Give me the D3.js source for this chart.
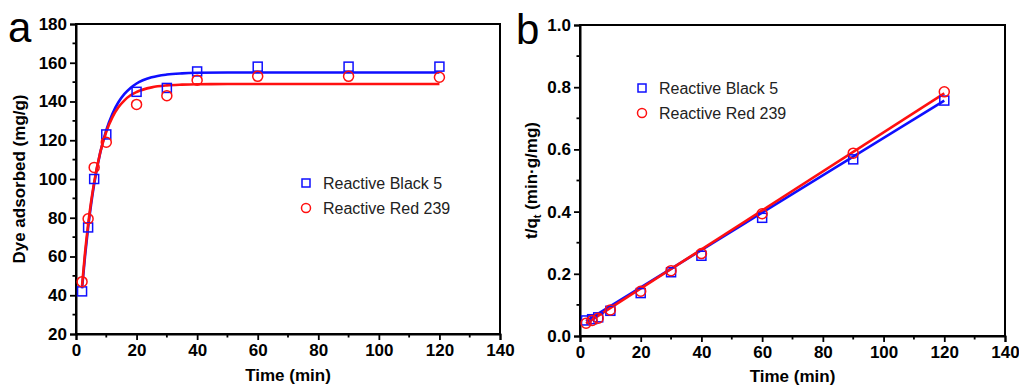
<!DOCTYPE html>
<html><head><meta charset="utf-8">
<script src="https://cdn.jsdelivr.net/npm/d3@7"></script>
<style>body{margin:0;background:#fff}svg{display:block;font-family:"Liberation Sans",Arial,sans-serif}</style>
</head><body><svg id="c" width="1019" height="387"></svg>
<script>
// ---- data ----
const times = [2, 4, 6, 10, 20, 30, 40, 60, 90, 120];
const black5_q = [42, 75, 100, 123, 145, 147, 155.5, 158, 158, 158];
const red239_q = [47, 79.5, 106, 119, 138.5, 143, 151, 153, 153, 152.5];
// fitted kinetic curves
const fitTimes = [2, 3, 4, 5, 6, 8, 10, 12, 14, 16, 18, 20, 25, 30, 35, 40, 50, 60, 80, 100, 120];
const black5_fit = [43.6, 60.5, 74.9, 87.1, 97.4, 113.6, 125.2, 133.6, 139.6, 143.9, 147.0, 149.3, 152.5, 153.9, 154.5, 154.8, 155, 155, 155, 155, 155];
const red239_fit = [45.0, 62.2, 76.5, 88.4, 98.4, 113.7, 124.4, 131.8, 137.0, 140.6, 143.2, 144.9, 147.3, 148.3, 148.7, 148.9, 149, 149, 149, 149, 149];
// pseudo-second-order plot t/qt
const black5_tq = [0.050, 0.054, 0.060, 0.081, 0.138, 0.205, 0.258, 0.380, 0.568, 0.757];
const red239_tq = [0.041, 0.050, 0.057, 0.084, 0.144, 0.210, 0.265, 0.393, 0.588, 0.785];
const lineTimes = [2, 120];
const black5_line = [0.048, 0.757];
const red239_line = [0.040, 0.780];
const seriesNames = ["Reactive Black 5", "Reactive Red 239"];
const xTicks = [0, 20, 40, 60, 80, 100, 120, 140];
const yTicksA = [20, 40, 60, 80, 100, 120, 140, 160, 180];
const yTicksB = [0.0, 0.2, 0.4, 0.6, 0.8, 1.0];

const BLUE = "#0f0fff", RED = "#ff1010";
const svg = d3.select("#c");

function panel(o) {
  const g = svg.append("g");
  const x = d3.scaleLinear().domain([0, 140]).range([o.x0, o.x1]);
  const y = d3.scaleLinear().domain(o.ydom).range([o.y0, o.y1]);
  // frame
  g.append("rect").attr("x", o.x0).attr("y", o.y1).attr("width", o.x1 - o.x0).attr("height", o.y0 - o.y1)
    .attr("fill", "none").attr("stroke", "#000").attr("stroke-width", 2);
  // minor ticks
  const xMinor = d3.range(10, 140, 20);
  g.selectAll(".xm").data(xMinor).join("line").attr("x1", d => x(d)).attr("x2", d => x(d))
    .attr("y1", o.y0).attr("y2", o.y0 + 3.5).attr("stroke", "#000").attr("stroke-width", 1.8);
  g.selectAll(".ym").data(o.yMinor).join("line").attr("y1", d => y(d)).attr("y2", d => y(d))
    .attr("x1", o.x0).attr("x2", o.x0 - 3.5).attr("stroke", "#000").attr("stroke-width", 1.8);
  // axes
  const xa = g.append("g").attr("transform", `translate(0,${o.y0})`)
    .call(d3.axisBottom(x).tickValues(xTicks).tickSize(6).tickPadding(4).tickFormat(d3.format("d")));
  const ya = g.append("g").attr("transform", `translate(${o.x0},0)`)
    .call(d3.axisLeft(y).tickValues(o.yTicks).tickSize(6).tickPadding(3).tickFormat(o.yfmt));
  [xa, ya].forEach(a => {
    a.select(".domain").attr("stroke-width", 2);
    a.selectAll(".tick line").attr("stroke-width", 1.8);
    a.selectAll(".tick text").attr("font-size", 17).attr("font-weight", "bold").attr("fill", "#000")
      .attr("font-family", '"Liberation Sans",Arial,sans-serif');
  });
  // fits
  const ln = d3.line().x(d => x(d[0])).y(d => y(d[1])).curve(d3.curveMonotoneX);
  o.fits.forEach(f => {
    g.append("path").datum(d3.zip(f.t, f.v)).attr("d", ln).attr("fill", "none")
      .attr("stroke", f.c).attr("stroke-width", 2.6);
  });
  // markers
  g.selectAll(".sq").data(d3.zip(times, o.s1)).join("rect")
    .attr("x", d => x(d[0]) - 4.5).attr("y", d => y(d[1]) - 4.5).attr("width", 9).attr("height", 9)
    .attr("fill", "none").attr("stroke", BLUE).attr("stroke-width", 1.5);
  g.selectAll(".ci").data(d3.zip(times, o.s2)).join("circle")
    .attr("cx", d => x(d[0])).attr("cy", d => y(d[1])).attr("r", 5)
    .attr("fill", "none").attr("stroke", RED).attr("stroke-width", 1.5);
  // legend
  const lg = g.append("g");
  lg.append("rect").attr("x", o.lx - 4).attr("y", o.ly - 4).attr("width", 8).attr("height", 8)
    .attr("fill", "none").attr("stroke", BLUE).attr("stroke-width", 1.5);
  lg.append("circle").attr("cx", o.lx).attr("cy", o.ly + 25).attr("r", 4.5)
    .attr("fill", "none").attr("stroke", RED).attr("stroke-width", 1.5);
  seriesNames.forEach((n, i) => {
    lg.append("text").attr("x", o.lx + 17).attr("y", o.ly + 25 * i).attr("dy", "0.36em")
      .attr("font-size", 16).attr("fill", "#222").text(n);
  });
  // x title
  g.append("text").attr("x", (o.x0 + o.x1) / 2).attr("y", o.xty).attr("text-anchor", "middle")
    .attr("font-size", 17).attr("font-weight", "bold").text("Time (min)");
  // panel letter
  g.append("text").attr("x", o.px).attr("y", o.py).attr("font-size", 42).text(o.letter);
  return {g, x, y};
}

const A = panel({
  x0: 76, x1: 500, y0: 334, y1: 24, ydom: [20, 180], yTicks: yTicksA, yMinor: d3.range(30, 180, 20),
  yfmt: d3.format("d"), s1: black5_q, s2: red239_q,
  fits: [{t: fitTimes, v: black5_fit, c: BLUE}, {t: fitTimes, v: red239_fit, c: RED}],
  lx: 306, ly: 183, xty: 381, px: 8, py: 42, letter: "a"
});
A.g.append("text").attr("transform", `translate(25,${(334 + 24) / 2}) rotate(-90)`).attr("text-anchor", "middle")
  .attr("font-size", 17).attr("font-weight", "bold").text("Dye adsorbed (mg/g)");

const B = panel({
  x0: 580, x1: 1005, y0: 336, y1: 25, ydom: [0, 1], yTicks: yTicksB, yMinor: d3.range(0.1, 1, 0.2),
  yfmt: d3.format(".1f"), s1: black5_tq, s2: red239_tq,
  fits: [{t: lineTimes, v: black5_line, c: BLUE}, {t: lineTimes, v: red239_line, c: RED}],
  lx: 642, ly: 88, xty: 382, px: 516, py: 44, letter: "b"
});
const bt = B.g.append("text").attr("transform", `translate(537,${(336 + 25) / 2}) rotate(-90)`).attr("text-anchor", "middle")
  .attr("font-size", 17).attr("font-weight", "bold");
bt.append("tspan").text("t/q");
bt.append("tspan").attr("font-size", 11).attr("dy", 4).text("t");
bt.append("tspan").attr("dy", -4).text(" (min·g/mg)");
</script></body></html>
